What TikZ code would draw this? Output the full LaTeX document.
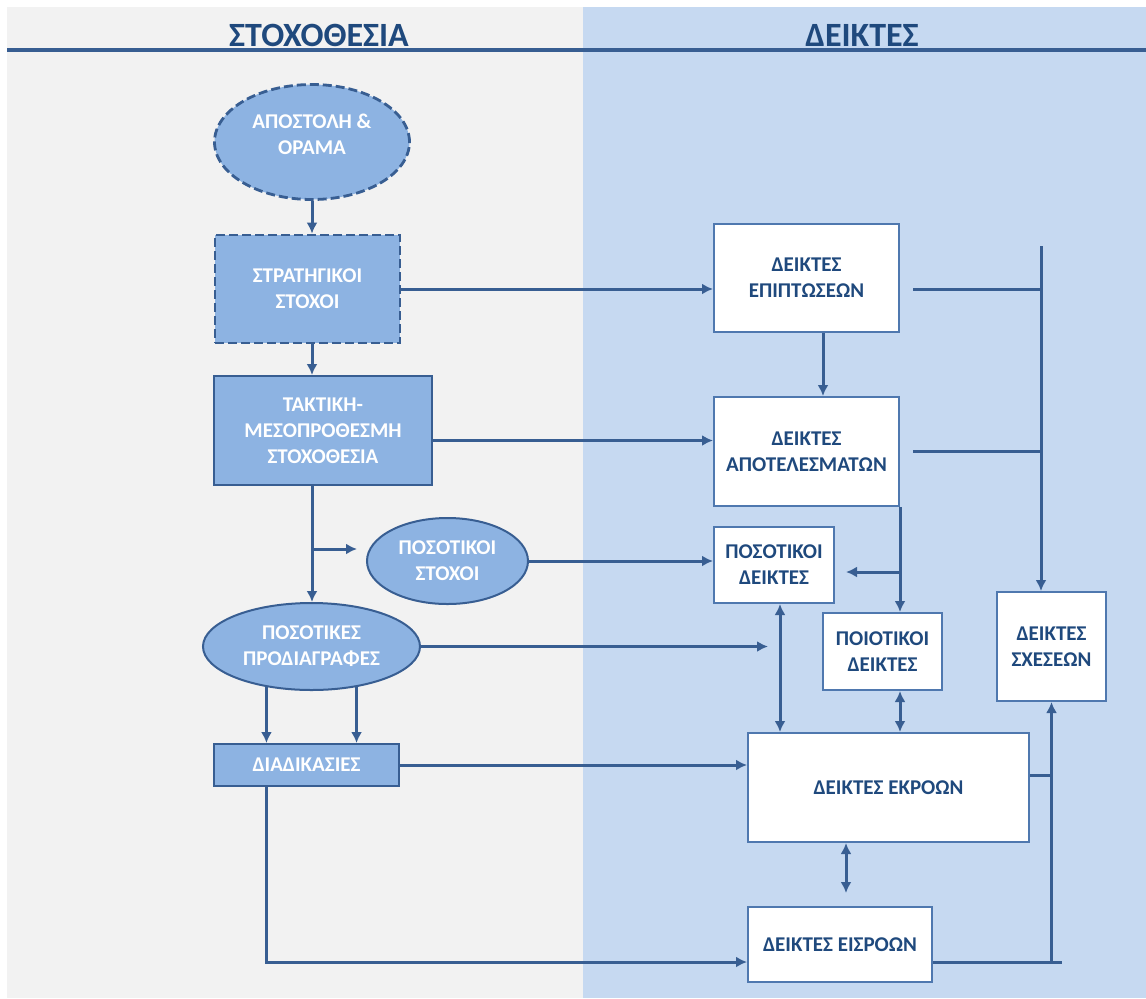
\documentclass[tikz,border=0pt]{standalone}
\usepackage{fontspec}
\setmainfont{Carlito}
\usepackage{xcolor}
\usetikzlibrary{shapes.geometric,backgrounds,arrows.meta}
\definecolor{PanelGray}{RGB}{242,242,242}
\definecolor{PanelBlue}{RGB}{198,217,241}
\definecolor{LineBlue}{RGB}{56,94,146}
\definecolor{BoxEdge}{RGB}{79,120,175}
\definecolor{GoalFill}{RGB}{141,179,226}
\definecolor{TextBlue}{RGB}{31,73,125}
\tikzset{%Global config
	>={Latex[length=5.5pt,width=5.5pt]},
	%Styles
	Title/.style={
		text=TextBlue,
		font=\bfseries\fontsize{17}{20}\selectfont,
		inner sep=0pt,
	},
	Goal/.style={
		fill=GoalFill,
		draw=LineBlue,
		line width=1pt,
		text=white,
		font=\bfseries\fontsize{10.5}{13}\selectfont,
		align=center,
		inner sep=0pt,
	},
	GoalDash/.style={
		Goal,
		line width=1.4pt,
		dash pattern=on 4.5pt off 2pt,
	},
	Oval/.style={ellipse},
	Ind/.style={
		fill=white,
		draw=BoxEdge,
		line width=1pt,
		text=TextBlue,
		font=\bfseries\fontsize{10.5}{13}\selectfont,
		align=center,
		inner sep=0pt,
	},
	Conn/.style={draw=LineBlue, line width=1.5pt},
	Arr/.style={Conn, ->},
	Arr2/.style={Conn, <->},
}
\begin{document}
\begin{tikzpicture}[x=0.5pt, y=-0.5pt]
	\useasboundingbox (0,0) rectangle (1146,998);
	% panels
	\fill[PanelGray] (7,7) rectangle (583,998);
	\fill[PanelBlue] (583,7) rectangle (1146,998);
	\draw[LineBlue, line width=1.6pt] (7,50) -- (1146,50);
	\node[Title] (tGoal) at (319,35) {ΣΤΟΧΟΘΕΣΙΑ};
	\node[Title] (tInd) at (862,35) {ΔΕΙΚΤΕΣ};
	
	% left column
	\node[GoalDash, Oval, minimum width=97.5pt, minimum height=57.5pt, text depth=8pt] (mission) at (312,142) {ΑΠΟΣΤΟΛΗ \&\\ΟΡΑΜΑ};
	\node[GoalDash, minimum width=92.5pt, minimum height=54pt] (strat) at (307.5,289) {ΣΤΡΑΤΗΓΙΚΟΙ\\ΣΤΟΧΟΙ};
	\node[Goal, minimum width=109pt, minimum height=54.5pt] (tact) at (323,430.5) {ΤΑΚΤΙΚΗ-\\ΜΕΣΟΠΡΟΘΕΣΜΗ\\ΣΤΟΧΟΘΕΣΙΑ};
	\node[Goal, Oval, minimum width=80.5pt, minimum height=43pt] (qgoal) at (447.5,561) {ΠΟΣΟΤΙΚΟΙ\\ΣΤΟΧΟΙ};
	\node[Goal, Oval, minimum width=108.5pt, minimum height=43.5pt] (qspec) at (311.5,646.5) {ΠΟΣΟΤΙΚΕΣ\\ΠΡΟΔΙΑΓΡΑΦΕΣ};
	\node[Goal, minimum width=92.5pt, minimum height=21pt] (proc) at (306.5,765) {ΔΙΑΔΙΚΑΣΙΕΣ};
	
	% right column
	\node[Ind, minimum width=92.5pt, minimum height=54pt] (impact) at (806.5,278) {ΔΕΙΚΤΕΣ\\ΕΠΙΠΤΩΣΕΩΝ};
	\node[Ind, minimum width=92.5pt, minimum height=54.5pt] (result) at (806.5,451.5) {ΔΕΙΚΤΕΣ\\ΑΠΟΤΕΛΕΣΜΑΤΩΝ};
	\node[Ind, minimum width=60pt, minimum height=38pt] (qind) at (774,565) {ΠΟΣΟΤΙΚΟΙ\\ΔΕΙΚΤΕΣ};
	\node[Ind, minimum width=59.5pt, minimum height=38.5pt] (qual) at (882.5,651.5) {ΠΟΙΟΤΙΚΟΙ\\ΔΕΙΚΤΕΣ};
	\node[Ind, minimum width=140.5pt, minimum height=54.5pt] (output) at (888.5,787.5) {ΔΕΙΚΤΕΣ ΕΚΡΟΩΝ};
	\node[Ind, minimum width=92pt, minimum height=37.5pt] (input) at (840,944.5) {ΔΕΙΚΤΕΣ ΕΙΣΡΟΩΝ};
	\node[Ind, minimum width=54.5pt, minimum height=54.5pt] (rel) at (1051.5,646.5) {ΔΕΙΚΤΕΣ\\ΣΧΕΣΕΩΝ};
	
	\coordinate (stubQ) at (357,549);
	\coordinate (stubP) at (768,647);
	\coordinate (stubL) at (846,572);
	\coordinate (inTop) at (846,893);
	\coordinate (relTop) at (1041,246);
	\coordinate (relEnd) at (1062,962);
	
	% connectors, left
	\draw[Arr] (mission.south) -- (strat.north -| mission.south);
	\draw[Arr] (strat.south -| mission.south) -- (tact.north -| mission.south);
	\draw[Arr] (tact.south -| mission.south) -- (qspec.north -| mission.south);
	\draw[Arr] (stubQ -| mission.south) -- (stubQ);
	\draw[Arr] (strat.east) -- (strat.east -| impact.west);
	\draw[Arr] ([yshift=-5pt]tact.east) -- ([yshift=-5pt]tact.east -| result.west);
	\draw[Arr] (qgoal.east) -- (qgoal.east -| qind.west);
	\draw[Arr] (qspec.east) -- (stubP |- qspec.east);
	\draw[Arr] (qspec.222) -- (qspec.222 |- proc.north);
	\draw[Arr] (qspec.318) -- (qspec.318 |- proc.north);
	\draw[Arr] (proc.east) -- (proc.east -| output.west);
	\draw[Arr] (qspec.222 |- proc.south) |- ([yshift=-8.75pt]input.west);
	
	% connectors, right
	\draw[Arr] ([xshift=8.25pt]impact.south) -- ([xshift=8.25pt]impact.south |- result.north);
	\draw[Arr] (result.south east) -- (result.south east |- qual.north);
	\draw[Arr] (result.south east |- stubL) -- (stubL);
	\draw[Arr2] ([xshift=3pt]qind.south) -- ([xshift=3pt]qind.south |- output.north);
	\draw[Arr2] (qual.south -| result.south east) -- (output.north -| result.south east);
	\draw[Arr2] (inTop |- output.south) -- (inTop);
	\draw[Arr] (relTop) -- (relTop |- rel.north);
	\draw[Conn] ([xshift=6.5pt]impact.east |- strat.east) -- (relTop |- strat.east);
	\draw[Conn] ([xshift=6.5pt]result.east) -- (result.east -| relTop);
	\draw[Conn] ([yshift=-8.75pt]input.east) -- (relEnd);
	\draw[Arr] (relEnd -| rel.south) -- (rel.south);
	\draw[Conn] ([yshift=6.25pt]output.east) -- ([yshift=6.25pt]output.east -| rel.south);
\end{tikzpicture}
\end{document}
